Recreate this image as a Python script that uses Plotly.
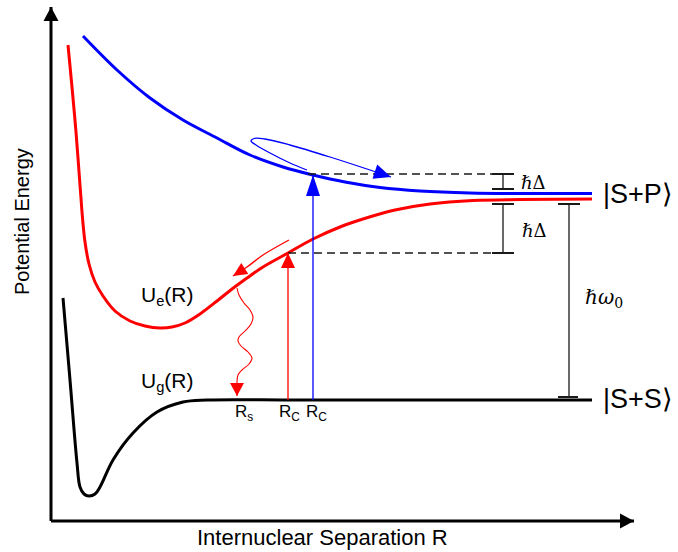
import math
import plotly.graph_objects as go

# ---- potential curves (R, energy) ----
blue_R = [83, 117, 150, 183, 217, 250, 283, 313, 345, 380, 420, 470, 520, 592]
blue_U = [516, 482, 454, 432, 414, 397, 385, 377, 370, 364.5, 361, 359, 358.5, 358.5]

red_R = [68, 76, 82, 85, 89, 95, 103, 115, 130, 145, 160, 172, 185, 200, 217, 232, 247,
         263, 288, 313, 340, 363, 395, 430, 473, 520, 592]
red_U = [507, 420, 340, 310, 288, 270, 256, 241, 231, 226, 224, 225, 229, 238, 251, 263, 274,
         285, 299, 313, 325, 333, 342, 348, 351.5, 352.5, 353]

black_R = [63, 70, 77, 80, 84, 89, 95, 100, 113, 133, 157, 183, 207, 300, 592]
black_U = [254, 172, 89, 65, 58, 56, 58, 65, 92, 119, 140, 150, 152, 152, 152]

# ---- levels and special separations ----
U_SS = 152
U_upper_dash = 378
U_lower_dash = 299
R_c_blue = 313
R_c_red = 288

# ---- trajectories ----
loop_R = [307, 290, 270, 256, 251, 254, 265, 290, 330, 370, 391]
loop_U = [382, 389, 399, 407, 411, 413.5, 413, 407, 395, 382, 375]

arc_R = [289, 263, 247, 233]
arc_U = [312, 297, 285, 276]

wave_R = [237, 239, 244, 250, 253, 251, 245, 239, 238, 241, 248, 252, 249, 242, 238, 237, 237]
wave_U = [264, 257, 249, 242, 235, 228, 221, 215, 211, 206, 200, 194, 188, 182, 177, 170, 156]

BLUE = "#0000ff"
RED = "#ff0000"
INK = "#1a1a1a"
FONT = "Liberation Sans, Arial, sans-serif"
MATH = "DejaVu Serif, serif"

fig = go.Figure()


def curve(x, y, color, width, shape="spline"):
    fig.add_trace(go.Scatter(x=x, y=y, mode="lines",
                             line=dict(color=color, width=width, shape=shape, smoothing=1.0),
                             hoverinfo="skip", showlegend=False))


def head(tip_x, tip_y, from_x, from_y, color, length, half_width):
    # filled triangular arrowhead pointing from (from_x, from_y) towards the tip
    dx, dy = tip_x - from_x, tip_y - from_y
    n = math.hypot(dx, dy)
    ux, uy = dx / n, dy / n
    bx, by = tip_x - length * ux, tip_y - length * uy
    px, py = -uy, ux
    fig.add_trace(go.Scatter(
        x=[tip_x, bx + half_width * px, bx - half_width * px, tip_x],
        y=[tip_y, by + half_width * py, by - half_width * py, tip_y],
        mode="lines", fill="toself", fillcolor=color, line=dict(width=0, color=color),
        hoverinfo="skip", showlegend=False))


def arrow(x, y, color, width, length, half_width, shape="linear"):
    curve(x, y, color, width, shape)
    head(x[-1], y[-1], x[-2], y[-2], color, length, half_width)


# axes with arrowheads
arrow([51, 51], [31, 545], "black", 3, 14, 7.5)
arrow([51, 634], [31, 31], "black", 3, 14, 7.5)

# potential curves
curve(black_R, black_U, "black", 3)
curve(red_R, red_U, RED, 3)
curve(blue_R, blue_U, BLUE, 3)

# dashed reference levels
for x0, lvl in [(308, U_upper_dash), (288, U_lower_dash)]:
    fig.add_trace(go.Scatter(x=[x0, 492], y=[lvl, lvl], mode="lines",
                             line=dict(color=INK, width=1.3, dash="8px,5px"),
                             hoverinfo="skip", showlegend=False))

# excitation arrows
arrow([R_c_blue, R_c_blue], [U_SS, 377], BLUE, 1.3, 21, 7)
arrow([R_c_red, R_c_red], [U_SS, U_lower_dash], RED, 1.3, 15, 7)

# trajectories
arrow(loop_R, loop_U, BLUE, 1.3, 17, 7.5, shape="spline")
arrow(arc_R, arc_U, RED, 1.3, 14, 6.5, shape="spline")
arrow(wave_R, wave_U, RED, 1.1, 13, 7, shape="spline")


# brackets
def bracket(x, x0, x1, y_top, y_bot, x0b, x1b):
    fig.add_shape(type="line", x0=x, x1=x, y0=y_bot, y1=y_top, line=dict(color=INK, width=1.3))
    fig.add_shape(type="line", x0=x0, x1=x1, y0=y_top, y1=y_top, line=dict(color=INK, width=2))
    fig.add_shape(type="line", x0=x0b, x1=x1b, y0=y_bot, y1=y_bot, line=dict(color=INK, width=2))


bracket(503, 492, 514, U_upper_dash, 363, 492, 514)
bracket(503, 492, 514, 348, U_lower_dash, 492, 514)
bracket(569, 558, 580, 348, 155, 558, 578)


# labels
def label(x, y, text, size, font=FONT, **kw):
    fig.add_annotation(x=x, y=y, text=text, showarrow=False,
                       font=dict(family=font, size=size, color="black"), **kw)


label(167, 256, "U<sub>e</sub>(R)", 21)
label(167, 170, "U<sub>g</sub>(R)", 21)
label(244, 139, "R<sub>s</sub>", 17)
label(289, 139, "R<sub>C</sub>", 17)
label(316, 139, "R<sub>C</sub>", 17)
label(601, 358, "|S+P⟩", 27, xanchor="left")
label(601, 153, "|S+S⟩", 27, xanchor="left")
label(533, 370, "<i>ℏ</i>Δ", 18, font=MATH)
label(534, 322, "<i>ℏ</i>Δ", 18, font=MATH)
label(604, 254, "<i>ℏω</i><sub>0</sub>", 20, font=MATH)
label(22, 330, "Potential Energy", 20, textangle=-90)
label(322, 15, "Internuclear Separation R", 22)

fig.update_layout(
    width=678, height=552,
    margin=dict(l=0, r=0, t=0, b=0),
    paper_bgcolor="white", plot_bgcolor="white",
    xaxis=dict(range=[0, 678], visible=False, fixedrange=True),
    yaxis=dict(range=[0, 552], visible=False, fixedrange=True),
    showlegend=False,
)

fig.write_html("out.html")
